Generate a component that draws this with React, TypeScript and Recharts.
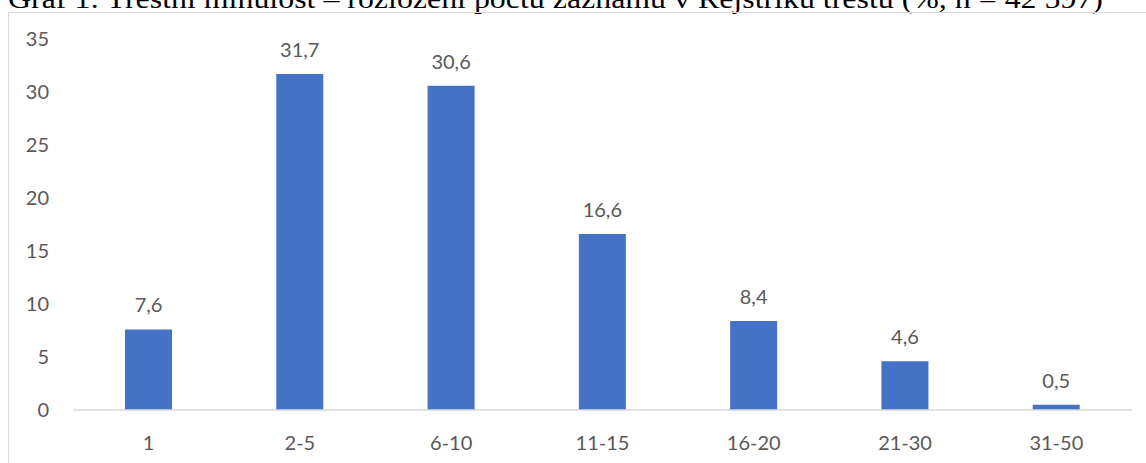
import React from "react";
import { BarChart, Bar, XAxis, YAxis, LabelList } from "recharts";

const CATEGORIES = ["1", "2-5", "6-10", "11-15", "16-20", "21-30", "31-50"];
const VALUES = [7.6, 31.7, 30.6, 16.6, 8.4, 4.6, 0.5];
const Y_TICKS = [0, 5, 10, 15, 20, 25, 30, 35];
const TITLE = "Graf 1: Trestní minulost – rozložení počtu záznamů v Rejstříku trestů (%, n = 42 597)";

const BAR_COLOR = "#4472C4";
const TEXT_COLOR = "#595959";
const FONT = "Lato, 'Open Sans', sans-serif";

const data = CATEGORIES.map((c, i) => ({ cat: c, value: VALUES[i] }));

export default function App() {
  return (
    <div
      style={{
        position: "absolute",
        left: 0,
        top: 0,
        width: 1146,
        height: 463,
        overflow: "hidden",
        background: "#fff",
      }}
    >
      {/* title, cut off at the top like in the scan */}
      <svg width={1146} height={14} style={{ position: "absolute", left: 0, top: 0 }}>
        <text
          x={8}
          y={7.5}
          fontFamily="'Liberation Serif', 'Times New Roman', serif"
          fontSize={27}
          fill="#000"
          textLength={1095}
          lengthAdjust="spacingAndGlyphs"
        >
          {TITLE}
        </text>
      </svg>

      {/* chart frame */}
      <div
        style={{
          position: "absolute",
          left: 8,
          top: 11.5,
          width: 1160,
          height: 480,
          border: "1.5px solid #d9d9d9",
          boxSizing: "border-box",
        }}
      />

      <div style={{ position: "absolute", left: 0, top: 0 }}>
        <BarChart
          width={1146}
          height={463}
          data={data}
          margin={{ top: 39, right: 14, left: 13, bottom: 0 }}
        >
          <XAxis
            dataKey="cat"
            height={53}
            tickLine={false}
            axisLine={{ stroke: "#d9d9d9", strokeWidth: 1.5 }}
            tickMargin={20}
            tick={{ fill: TEXT_COLOR, fontSize: 20, fontFamily: FONT }}
            interval={0}
          />
          <YAxis
            width={60}
            domain={[0, 35]}
            ticks={Y_TICKS}
            axisLine={false}
            tickLine={false}
            tickMargin={18}
            tick={{ fill: TEXT_COLOR, fontSize: 20, fontFamily: FONT }}
          />
          <Bar dataKey="value" fill={BAR_COLOR} barSize={47} isAnimationActive={false}>
            <LabelList
              dataKey="value"
              position="top"
              offset={17}
              fill={TEXT_COLOR}
              fontSize={20}
              fontFamily={FONT}
              formatter={(v: any) => String(v).replace(".", ",")}
            />
          </Bar>
        </BarChart>
      </div>
    </div>
  );
}
